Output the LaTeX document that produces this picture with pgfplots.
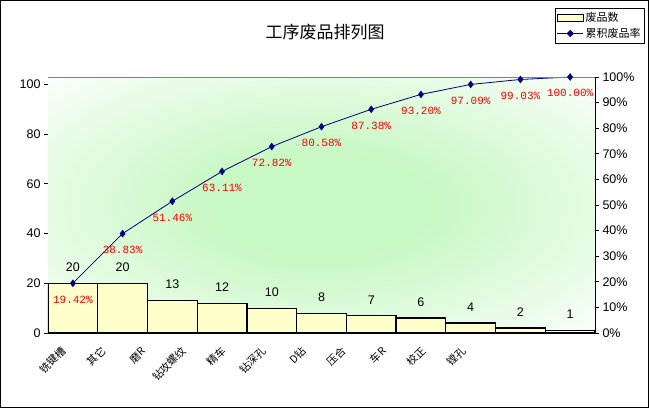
\documentclass[border=0pt]{standalone}
\usepackage{pgfplots}
\pgfplotsset{compat=1.18}
\usepackage{pgfplotstable}
\usepackage{fontspec}
\setmainfont{Liberation Sans}
\newfontfamily\cjk{Noto Sans CJK SC}
\newfontfamily\mono{Liberation Mono}
\definecolor{baryellow}{RGB}{255,255,204}
\definecolor{linenavy}{RGB}{0,0,128}
\definecolor{bggreen}{RGB}{200,248,196}
\pgfdeclareradialshading{bgshade}{\pgfpoint{0bp}{0bp}}{color(0bp)=(bggreen); color(10bp)=(bggreen); color(38bp)=(white); color(50bp)=(white)}
\pgfplotstableread{
x n c
0 20 19.42
1 20 38.83
2 13 51.46
3 12 63.11
4 10 72.82
5 8 80.58
6 7 87.38
7 6 93.20
8 4 97.09
9 2 99.03
10 1 100.00
}\data
\begin{document}
\begin{tikzpicture}
\draw[black, line width=1pt] (0.5pt,0.5pt) rectangle (648.5pt,407.5pt);
\node[font=\cjk\fontsize{17}{17}\selectfont] at (325pt,376pt) {工序废品排列图};
\begin{axis}[at={(48pt,75pt)}, anchor=south west, scale only axis,
  width=547pt, height=256pt,
  xmin=-0.5, xmax=10.5, ymin=0, ymax=103,
  ybar, bar width=1,
  /pgf/number format/assume math mode=true,
  axis line style={black, line width=0.8pt},
  ytick={0,20,...,100}, ytick pos=left,
  tick align=outside, major tick length=4pt,
  tick style={black, line width=0.8pt},
  xtick={-0.420,0.384,1.189,1.993,2.797,3.602,4.406,5.210,6.015,6.819,7.623},
  xtick pos=bottom,
  major x tick style={draw=none},
  xticklabels={铣键槽,其它,磨R,钻攻螺纹,精车,钻深孔,D钻,压合,车R,校正,镗孔},
  xticklabel style={font=\cjk\fontsize{10.5}{10.5}\selectfont, rotate=45, anchor=north east, inner sep=0pt, yshift=-12pt},
  yticklabel style={font=\fontsize{12.5}{12.5}\selectfont},
  legend style={at={(1.0914,1.2695)}, anchor=north east, draw=black, line width=0.6pt,
    font=\cjk\fontsize{11}{11}\selectfont, inner sep=2pt, row sep=1pt, cells={anchor=west}},
  legend cell align=left,
]
\fill[shading=bgshade] (rel axis cs:0,0) rectangle (rel axis cs:1,1);
\addplot[fill=baryellow, draw=black, line width=1.2pt,
  nodes near coords,
  nodes near coords style={font=\fontsize{12.5}{12.5}\selectfont, black, inner sep=0pt, anchor=south, yshift=11pt},
  legend image code/.code={\draw[fill=baryellow,draw=black,line width=0.8pt] (0pt,-3.5pt) rectangle (26pt,3.5pt);}]
  table[x=x,y=n]{\data};
\addlegendentry{废品数}
\addlegendimage{linenavy, line width=0.8pt, legend image code/.code={\draw[linenavy,line width=0.8pt] (0pt,0pt) -- (26pt,0pt); \fill[linenavy] (13pt,3pt) -- (16pt,0pt) -- (13pt,-3pt) -- (10pt,0pt) -- cycle;}}
\addlegendentry{累积废品率}
\end{axis}
\begin{axis}[at={(48pt,75pt)}, anchor=south west, scale only axis,
  width=547pt, height=256pt,
  xmin=-0.5, xmax=10.5, ymin=0, ymax=100,
  axis x line=none, axis y line*=right,
  axis line style={black, line width=0.8pt, -},
  /pgf/number format/assume math mode=true,
  ytick={0,10,...,100},
  yticklabel={\pgfmathprintnumber{\tick}\%},
  yticklabel style={font=\fontsize{12.5}{12.5}\selectfont},
  tick align=outside, major tick length=4pt,
  tick style={black, line width=0.8pt},
  clip=false,
]
\addplot[linenavy, line width=0.8pt, mark=diamond*, mark size=3.2pt,
  mark options={fill=linenavy, draw=linenavy},
  nodes near coords={\pgfmathprintnumber[fixed,fixed zerofill,precision=2,assume math mode=true]{\pgfplotspointmeta}\%},
  nodes near coords style={font=\mono\fontsize{11}{11}\selectfont, red, anchor=north, inner sep=0pt, yshift=-12pt}]
  table[x=x,y=c]{\data};
\draw[gray, line width=0.8pt] (rel axis cs:0,1) -- (rel axis cs:1,1);
\end{axis}
\end{tikzpicture}
\end{document}
